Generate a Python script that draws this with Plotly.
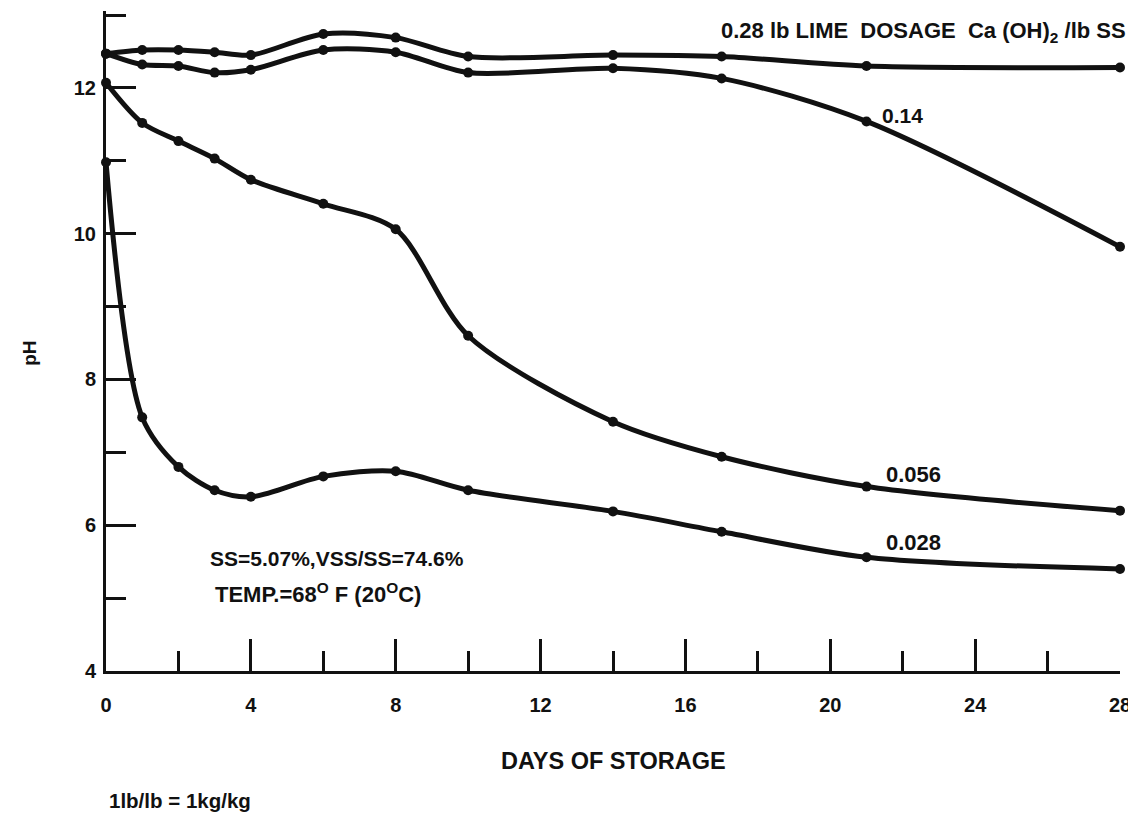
import plotly.graph_objects as go

days = [0, 1, 2, 3, 4, 6, 8, 10, 14, 17, 21, 28]
ph_028 = [12.47, 12.52, 12.52, 12.49, 12.45, 12.74, 12.69, 12.43, 12.45, 12.43, 12.30, 12.28]
ph_014 = [12.47, 12.32, 12.30, 12.21, 12.25, 12.52, 12.49, 12.21, 12.27, 12.13, 11.54, 9.82]
ph_0056 = [12.07, 11.52, 11.27, 11.03, 10.74, 10.41, 10.06, 8.60, 7.42, 6.94, 6.53, 6.20]
ph_0028 = [10.98, 7.48, 6.80, 6.48, 6.39, 6.67, 6.74, 6.48, 6.19, 5.91, 5.56, 5.40]
series = [("0.28", ph_028), ("0.14", ph_014), ("0.056", ph_0056), ("0.028", ph_0028)]

x_ticks = [0, 4, 8, 12, 16, 20, 24, 28]
x_minor_ticks = [2, 6, 10, 14, 18, 22, 26]
y_ticks = [4, 6, 8, 10, 12]
y_minor_ticks = [5, 7, 9, 11, 13]

FONT = "Liberation Sans, Arial, Helvetica, sans-serif"
BLACK = "#111111"
NB = "\u00a0"

fig = go.Figure()
for name, vals in series:
    fig.add_trace(go.Scatter(
        x=days, y=vals, mode="lines+markers", name=name,
        line=dict(color=BLACK, width=5, shape="spline", smoothing=0.85),
        marker=dict(color=BLACK, size=10),
        cliponaxis=False, showlegend=False,
    ))

ann_font = dict(family=FONT, size=21, color=BLACK, weight="bold")
big_font = dict(family=FONT, size=22, color=BLACK, weight="bold")
annotations = [
    dict(x=21.38, y=11.62, text="0.14", xanchor="left"),
    dict(x=21.49, y=6.70, text="0.056", xanchor="left", font=big_font),
    dict(x=21.49, y=5.76, text="0.028", xanchor="left", font=big_font),
    dict(x=2.82, y=5.54, text="SS=5.07%,VSS/SS=74.6%", xanchor="left"),
    dict(x=2.95, y=5.07, text="TEMP.=68<sup>O</sup> F (20<sup>O</sup>C)", xanchor="left", font=big_font),
]
for a in annotations:
    a.setdefault("font", ann_font)
    fig.add_annotation(xref="x", yref="y", showarrow=False, yanchor="middle", **a)

top_label = ("0.28 lb LIME" + NB + NB + "DOSAGE" + NB + " Ca (OH)<sub>2</sub>" + NB + "/lb SS")
fig.add_annotation(xref="paper", yref="paper", x=1.0079, y=0.968, xanchor="right", yanchor="middle",
                   text=top_label, showarrow=False, font=big_font)
fig.add_annotation(xref="paper", yref="paper", x=0.5, y=-0.1357, xanchor="center", yanchor="middle",
                   text="DAYS OF STORAGE", showarrow=False,
                   font=dict(family=FONT, size=23.5, color=BLACK, weight="bold"))
fig.add_annotation(xref="paper", yref="paper", x=0.001, y=-0.1966, xanchor="left", yanchor="middle",
                   text="1lb/lb = 1kg/kg", showarrow=False,
                   font=dict(family=FONT, size=20.5, color=BLACK, weight="bold"))
fig.add_annotation(xref="paper", yref="paper", x=-0.075, y=0.482, xanchor="center", yanchor="middle",
                   text="pH", textangle=-90, showarrow=False,
                   font=dict(family=FONT, size=19, color=BLACK, weight="bold"))

fig.update_layout(
    width=1136, height=814,
    margin=dict(l=98, r=24, t=3, b=151),
    paper_bgcolor="white", plot_bgcolor="white",
    font=dict(family=FONT, color=BLACK),
    xaxis=dict(
        range=[0, 28], tickmode="array", tickvals=x_ticks, ticktext=[str(v) for v in x_ticks],
        ticks="inside", ticklen=32, tickwidth=3, tickcolor=BLACK,
        minor=dict(tickmode="array", tickvals=x_minor_ticks, ticks="inside", ticklen=20,
                   tickwidth=3, tickcolor=BLACK, showgrid=False),
        showline=True, linecolor=BLACK, linewidth=3, showgrid=False, zeroline=False,
        tickfont=dict(family=FONT, size=20, color=BLACK, weight="bold"),
        ticklabelstandoff=14,
    ),
    yaxis=dict(
        range=[4, 13.055], tickmode="array", tickvals=y_ticks, ticktext=[str(v) for v in y_ticks],
        ticks="inside", ticklen=30, tickwidth=3, tickcolor=BLACK,
        minor=dict(tickmode="array", tickvals=y_minor_ticks, ticks="inside", ticklen=20,
                   tickwidth=3, tickcolor=BLACK, showgrid=False),
        showline=True, linecolor=BLACK, linewidth=3, showgrid=False, zeroline=False,
        tickfont=dict(family=FONT, size=20, color=BLACK, weight="bold"),
        ticklabelstandoff=3,
    ),
)

fig.write_html("out.html")
